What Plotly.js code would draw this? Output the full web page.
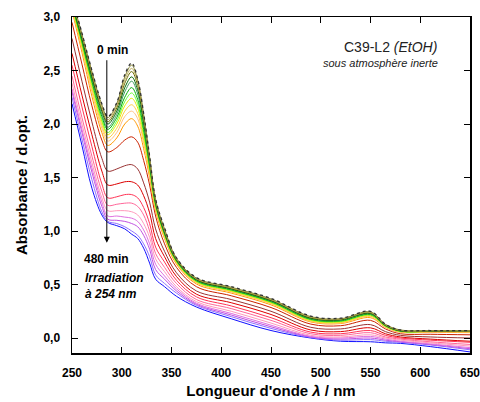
<!DOCTYPE html>
<html>
<head>
<meta charset="utf-8">
<script src="https://cdn.plot.ly/plotly-3.0.1.min.js"></script>
<style>html,body{margin:0;padding:0;background:#fff}#chart{width:480px;height:402px}</style>
</head>
<body>
<div id="chart"></div>
<script>
// Wavelengths (nm)
const wavelengths = [250, 260, 270, 280, 286, 295, 303, 310, 316, 322, 328, 334, 343, 355, 375, 410, 450, 490, 520, 550, 565, 580, 610, 650];

// Absorbance spectra, from 0 min (top) to 480 min (bottom)
const s01 = [3.18, 2.85, 2.50, 2.19, 2.07, 2.20, 2.46, 2.57, 2.42, 2.10, 1.70, 1.30, 1.03, 0.75, 0.565, 0.48, 0.37, 0.205, 0.185, 0.25, 0.13, 0.075, 0.07, 0.07];
const s02 = [3.17, 2.84, 2.49, 2.18, 2.06, 2.19, 2.44, 2.55, 2.41, 2.09, 1.69, 1.29, 1.02, 0.745, 0.56, 0.475, 0.365, 0.20, 0.18, 0.245, 0.128, 0.075, 0.07, 0.068];
const s03 = [3.16, 2.83, 2.48, 2.16, 2.04, 2.17, 2.41, 2.52, 2.39, 2.07, 1.68, 1.29, 1.01, 0.74, 0.555, 0.47, 0.36, 0.195, 0.178, 0.24, 0.125, 0.072, 0.068, 0.066];
const s04 = [3.15, 2.82, 2.46, 2.14, 2.02, 2.15, 2.38, 2.49, 2.36, 2.05, 1.67, 1.28, 1.00, 0.735, 0.55, 0.465, 0.355, 0.19, 0.175, 0.235, 0.122, 0.07, 0.066, 0.065];
const s05 = [3.14, 2.80, 2.44, 2.12, 2.00, 2.12, 2.34, 2.44, 2.32, 2.02, 1.65, 1.27, 0.99, 0.73, 0.545, 0.46, 0.35, 0.185, 0.17, 0.23, 0.12, 0.068, 0.065, 0.064];
const s06 = [3.13, 2.79, 2.42, 2.09, 1.97, 2.09, 2.30, 2.40, 2.28, 1.99, 1.63, 1.26, 0.98, 0.725, 0.54, 0.455, 0.345, 0.18, 0.165, 0.225, 0.118, 0.066, 0.064, 0.063];
const s07 = [3.12, 2.77, 2.40, 2.07, 1.95, 2.06, 2.25, 2.34, 2.23, 1.95, 1.61, 1.25, 0.975, 0.72, 0.535, 0.45, 0.34, 0.175, 0.16, 0.22, 0.115, 0.065, 0.063, 0.062];
const s08 = [3.11, 2.76, 2.38, 2.04, 1.92, 2.03, 2.21, 2.29, 2.19, 1.92, 1.59, 1.24, 0.97, 0.715, 0.53, 0.445, 0.335, 0.17, 0.155, 0.215, 0.112, 0.063, 0.062, 0.061];
const s09 = [3.10, 2.74, 2.36, 2.02, 1.90, 2.00, 2.17, 2.24, 2.15, 1.89, 1.57, 1.23, 0.96, 0.71, 0.525, 0.44, 0.33, 0.165, 0.15, 0.21, 0.11, 0.062, 0.061, 0.06];
const s10 = [3.09, 2.72, 2.33, 1.99, 1.87, 1.96, 2.12, 2.18, 2.10, 1.85, 1.55, 1.22, 0.95, 0.705, 0.52, 0.435, 0.325, 0.16, 0.145, 0.205, 0.107, 0.06, 0.06, 0.058];
const s11 = [3.08, 2.70, 2.30, 1.96, 1.84, 1.92, 2.07, 2.12, 2.05, 1.82, 1.53, 1.21, 0.94, 0.70, 0.515, 0.43, 0.32, 0.155, 0.14, 0.20, 0.104, 0.058, 0.058, 0.055];
const s12 = [3.06, 2.67, 2.26, 1.92, 1.80, 1.87, 2.00, 2.05, 1.98, 1.77, 1.50, 1.19, 0.93, 0.69, 0.505, 0.42, 0.31, 0.15, 0.135, 0.19, 0.10, 0.055, 0.054, 0.05];
const s13 = [2.95, 2.56, 2.17, 1.85, 1.74, 1.78, 1.85, 1.88, 1.83, 1.66, 1.43, 1.14, 0.88, 0.66, 0.48, 0.395, 0.285, 0.13, 0.115, 0.165, 0.085, 0.04, 0.035, 0.03];
const s14 = [2.80, 2.40, 2.02, 1.68, 1.56, 1.58, 1.61, 1.62, 1.58, 1.45, 1.27, 1.02, 0.81, 0.61, 0.44, 0.36, 0.25, 0.10, 0.085, 0.125, 0.06, 0.025, 0.01, 0.0];
const s15 = [2.66, 2.27, 1.90, 1.56, 1.43, 1.44, 1.46, 1.46, 1.43, 1.33, 1.17, 0.93, 0.76, 0.575, 0.41, 0.33, 0.22, 0.075, 0.06, 0.095, 0.04, 0.01, -0.01, -0.03];
const s16 = [2.55, 2.16, 1.79, 1.44, 1.31, 1.32, 1.34, 1.34, 1.31, 1.22, 1.07, 0.85, 0.71, 0.54, 0.385, 0.30, 0.19, 0.055, 0.04, 0.07, 0.025, 0.0, -0.02, -0.04];
const s17 = [2.45, 2.06, 1.70, 1.37, 1.24, 1.25, 1.26, 1.26, 1.23, 1.15, 1.00, 0.79, 0.66, 0.51, 0.36, 0.275, 0.165, 0.04, 0.025, 0.05, 0.01, -0.01, -0.035, -0.06];
const s18 = [2.38, 2.00, 1.64, 1.31, 1.19, 1.19, 1.19, 1.18, 1.15, 1.07, 0.94, 0.74, 0.62, 0.48, 0.34, 0.25, 0.14, 0.025, 0.01, 0.03, 0.0, -0.02, -0.045, -0.075];
const s19 = [2.33, 1.95, 1.59, 1.27, 1.14, 1.14, 1.13, 1.12, 1.09, 1.01, 0.88, 0.69, 0.58, 0.46, 0.325, 0.23, 0.12, 0.015, 0.0, 0.015, -0.01, -0.03, -0.055, -0.09];
const s20 = [2.30, 1.92, 1.55, 1.23, 1.11, 1.10, 1.09, 1.07, 1.04, 0.96, 0.83, 0.64, 0.55, 0.44, 0.315, 0.215, 0.105, 0.01, -0.01, 0.0, -0.02, -0.035, -0.06, -0.10];
const s21 = [2.25, 1.86, 1.48, 1.18, 1.09, 1.07, 1.04, 1.00, 0.96, 0.88, 0.76, 0.59, 0.51, 0.42, 0.305, 0.20, 0.09, 0.005, -0.02, -0.015, -0.03, -0.04, -0.065, -0.11];
const s22 = [2.19, 1.80, 1.40, 1.15, 1.08, 1.05, 1.02, 0.97, 0.93, 0.84, 0.70, 0.55, 0.48, 0.39, 0.29, 0.18, 0.07, 0.0, -0.03, -0.035, -0.045, -0.05, -0.08, -0.13];

const spectra = [s01, s02, s03, s04, s05, s06, s07, s08, s09, s10, s11, s12, s13, s14, s15, s16, s17, s18, s19, s20, s21, s22];
const colors = ['#333333', '#8b8b3a', '#c0b060', '#6b6b00', '#006400', '#3c9a5a', '#00b000', '#66ff33', '#e8e800', '#ffd040', '#ffc080', '#ff9900',
                '#cc2200', '#993333', '#dd0000', '#ff3355', '#ff6699', '#ff99bb', '#e070e0', '#c050e0', '#9070ff', '#1010ff'];

const xTickVals = [250, 300, 350, 400, 450, 500, 550, 600, 650];
const yTickVals = [0, 0.5, 1, 1.5, 2, 2.5, 3];

const traces = [];
for (let i = spectra.length - 1; i >= 0; i--) {
  traces.push({
    x: wavelengths, y: spectra[i], type: 'scatter', mode: 'lines',
    line: {color: colors[i], width: i === 0 ? 1.3 : 1, shape: 'spline', smoothing: 1, dash: i === 0 ? 'dot' : 'solid'},
    hoverinfo: 'skip', showlegend: false
  });
}

const F = 'Arial, "Liberation Sans", sans-serif';
const layout = {
  width: 480, height: 402,
  margin: {l: 72, r: 10, t: 17, b: 49},
  paper_bgcolor: '#ffffff', plot_bgcolor: '#ffffff',
  separators: ', ',
  showlegend: false,
  xaxis: {
    range: [250, 650], tickvals: xTickVals, ticks: 'inside', ticklen: 6, tickcolor: '#000',
    showline: true, linecolor: '#000', linewidth: 1.5, mirror: 'ticks', showgrid: false, zeroline: false,
    ticklabeloverflow: 'allow', automargin: false,
    tickfont: {family: F, size: 12, color: '#000', weight: 'bold'}, ticklabelstandoff: 8,
    title: {text: "<b>Longueur d'onde <i>λ</i> / nm</b>", font: {family: F, size: 15, color: '#000'}, standoff: 6}
  },
  yaxis: {
    range: [-0.14, 3.0], tickvals: yTickVals, tickformat: '.1f', ticks: 'inside', ticklen: 6, tickcolor: '#000',
    showline: true, linecolor: '#000', linewidth: 1.5, mirror: 'ticks', showgrid: false, zeroline: false,
    ticklabeloverflow: 'allow', automargin: false,
    tickfont: {family: F, size: 12, color: '#000', weight: 'bold'}, ticklabelstandoff: 8,
    title: {text: '<b>Absorbance / d.opt.</b>', font: {family: F, size: 15, color: '#000'}, standoff: 12}
  },
  annotations: [
    {x: 285, y: 0.89, ax: 285, ay: 2.61, axref: 'x', ayref: 'y', xref: 'x', yref: 'y', text: '', showarrow: true,
     arrowhead: 2, arrowsize: 1.2, arrowwidth: 1, arrowcolor: '#000'},
    {x: 291, y: 2.69, xref: 'x', yref: 'y', text: '<b>0 min</b>', showarrow: false, font: {family: F, size: 12, color: '#000'}},
    {x: 285, y: 0.74, xref: 'x', yref: 'y', text: '<b>480 min</b>', showarrow: false, font: {family: F, size: 12, color: '#000'}},
    {x: 261, y: 0.49, xref: 'x', yref: 'y', xanchor: 'left', align: 'left', text: '<b><i>Irradiation<br>à 254 nm</i></b>', showarrow: false, font: {family: F, size: 12, color: '#000'}},
    {x: 619, y: 2.72, xref: 'x', yref: 'y', xanchor: 'right', text: 'C39-L2 <i>(EtOH)</i>', showarrow: false, font: {family: F, size: 14, color: '#222'}},
    {x: 620, y: 2.57, xref: 'x', yref: 'y', xanchor: 'right', text: '<i>sous atmosphère inerte</i>', showarrow: false, font: {family: F, size: 11, color: '#222'}}
  ]
};

Plotly.newPlot('chart', traces, layout, {staticPlot: true, displayModeBar: false});
</script>
</body>
</html>
